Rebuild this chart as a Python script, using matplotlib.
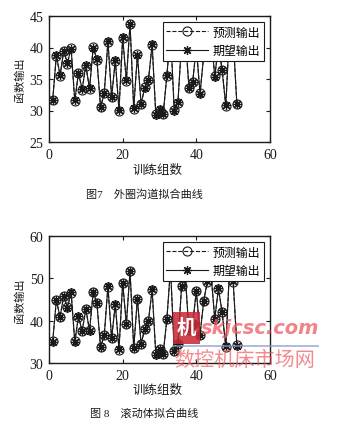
import matplotlib
matplotlib.use("Agg")
import matplotlib.pyplot as plt
from matplotlib.patches import Rectangle
from matplotlib.lines import Line2D

plt.rcParams['font.family'] = ['Liberation Serif', 'Noto Sans CJK SC', 'DejaVu Sans']

# training-group index
groups = list(range(1, 52))

# outer-ring raceway: expected output
expect_outer = [31.7, 38.8, 35.6, 39.5, 37.6, 39.8, 31.6, 36.0, 33.4, 37.2,
                33.5, 40.0, 38.2, 30.5, 32.7, 41.0, 32.1, 38.0, 30.1, 41.6,
                34.8, 43.8, 30.4, 38.8, 31.1, 33.6, 34.8, 40.5, 29.3, 30.2,
                29.4, 35.6, 42.5, 30.0, 31.3, 40.9, 42.0, 33.6, 34.5, 40.1,
                32.6, 38.8, 41.6, 42.3, 35.3, 40.4, 36.4, 30.8, 42.8, 41.6,
                31.0]
# outer-ring raceway: network output
pred_outer = [31.6, 38.7, 35.5, 39.4, 37.4, 39.9, 31.5, 35.9, 33.3, 37.1,
              33.4, 40.1, 38.0, 30.6, 32.8, 40.9, 32.2, 37.9, 30.0, 41.5,
              34.7, 43.7, 30.3, 38.9, 31.0, 33.7, 34.9, 40.4, 29.4, 30.1,
              29.5, 35.5, 42.4, 30.1, 31.2, 40.8, 42.1, 33.5, 34.6, 40.0,
              32.7, 38.7, 41.5, 42.2, 35.4, 40.3, 36.5, 30.7, 42.7, 41.5,
              31.1]

# rolling element: expected output
expect_roll = [35.0, 44.9, 40.8, 45.9, 43.1, 46.7, 35.0, 41.0, 37.6, 42.7,
               37.6, 46.8, 44.2, 33.7, 36.6, 48.1, 35.8, 43.9, 33.2, 49.0,
               39.2, 51.8, 33.5, 45.2, 34.5, 38.0, 40.0, 47.4, 32.0, 33.4,
               32.1, 40.4, 52.5, 32.8, 34.5, 48.2, 50.5, 37.7, 39.2, 47.1,
               36.6, 44.7, 49.3, 51.0, 40.4, 47.6, 42.0, 33.9, 52.0, 49.3,
               34.1]
# rolling element: network output
pred_roll = [35.1, 44.8, 40.9, 45.8, 43.2, 46.6, 35.1, 40.9, 37.5, 42.8,
             37.7, 46.7, 44.1, 33.8, 36.5, 48.0, 35.9, 43.8, 33.1, 48.9,
             39.3, 51.7, 33.6, 45.1, 34.6, 38.1, 39.9, 47.3, 32.1, 33.3,
             32.2, 40.3, 52.4, 32.9, 34.4, 48.1, 50.4, 37.8, 39.1, 47.0,
             36.7, 44.6, 49.2, 50.9, 40.5, 47.5, 42.1, 33.8, 51.9, 49.2,
             34.2]

x_ticks = [0, 20, 40, 60]
y_ticks_outer = [25, 30, 35, 40, 45]
y_ticks_roll = [30, 40, 50, 60]

legend_labels = ['预测输出', '期望输出']
y_label = '函数输出'
x_label = '训练组数'
caption_outer = '图7　外圈沟道拟合曲线'
caption_roll = '图 8　滚动体拟合曲线'

W, H = 339, 435
fig = plt.figure(figsize=(W / 100, H / 100), dpi=100)


def fx(px):
    return px / W


def fy(py):
    return 1 - py / H


cjk = ['Noto Sans CJK SC', 'DejaVu Sans']
serif = ['Liberation Serif', 'Noto Sans CJK SC']
ink = '#1a1a1a'


def panel(top_px, bot_px, pred, expect, yticks):
    ax = fig.add_axes([fx(49), fy(bot_px), fx(270) - fx(49), (bot_px - top_px) / H])
    ax.plot(groups, pred, linestyle='--', color=ink, lw=0.8, marker='o',
            markersize=6.5, markerfacecolor='none', markeredgewidth=0.8,
            label=legend_labels[0])
    ax.plot(groups, expect, linestyle='-', color=ink, lw=0.8,
            marker=(8, 2, 0), markersize=6.5, markeredgewidth=0.9,
            label=legend_labels[1])
    ax.set_xlim(x_ticks[0], x_ticks[-1])
    ax.set_ylim(yticks[0], yticks[-1])
    ax.set_xticks(x_ticks)
    ax.set_yticks(yticks)
    ax.tick_params(direction='in', top=True, right=True, length=3,
                   width=0.8, labelsize=10, pad=4, colors=ink)
    for lab in ax.get_xticklabels() + ax.get_yticklabels():
        lab.set_family(serif)
    for s in ax.spines.values():
        s.set_linewidth(1.0)
        s.set_color(ink)
    ax.set_ylabel(y_label, family=cjk, fontsize=8, labelpad=3, color=ink)
    leg = ax.legend(loc='upper right', prop={'family': cjk, 'size': 8.6},
                    frameon=True, fancybox=False, edgecolor=ink,
                    handlelength=3.5, handletextpad=0.4, borderpad=0.3,
                    labelspacing=0.45, borderaxespad=0.5, framealpha=1)
    leg.get_frame().set_linewidth(0.8)
    return ax


ax1 = panel(17, 143, pred_outer, expect_outer, y_ticks_outer)
ax2 = panel(237, 364, pred_roll, expect_roll, y_ticks_roll)

fig.text(fx(158), fy(170), x_label, family=cjk, fontsize=9, ha='center',
         va='center', color=ink)
fig.text(fx(144), fy(194), caption_outer, family=serif, fontsize=8,
         ha='center', va='center', color=ink)
fig.text(fx(158), fy(390), x_label, family=cjk, fontsize=9, ha='center',
         va='center', color=ink)
fig.text(fx(144), fy(413), caption_roll, family=serif, fontsize=8,
         ha='center', va='center', color=ink)

# site watermark over the lower panel
pink = (0.93, 0.35, 0.38)
fig.patches.append(Rectangle((fx(173), fy(345)), fx(200) - fx(173),
                             fy(313) - fy(345), transform=fig.transFigure,
                             facecolor=(0.78, 0.15, 0.2), alpha=0.85,
                             edgecolor='none', zorder=5))
fig.text(fx(186.5), fy(329), '机', family=cjk, fontsize=14, weight='bold',
         color='white', ha='center', va='center', zorder=6)
fig.text(fx(201), fy(329), 'skjcsc.com', family=['DejaVu Sans'],
         fontsize=14, weight='bold', style='italic', color=pink, alpha=0.75,
         ha='left', va='center', zorder=6)
fig.lines.append(Line2D([fx(173), fx(318)], [fy(347), fy(347)],
                        transform=fig.transFigure, color=(0.55, 0.6, 0.78),
                        lw=1.2, alpha=0.8, zorder=6))
fig.text(fx(245), fy(360), '数控机床市场网', family=cjk, fontsize=14.5,
         color=pink, alpha=0.7, ha='center', va='center', zorder=6)

fig.savefig('out.png', dpi=100, facecolor='white')
